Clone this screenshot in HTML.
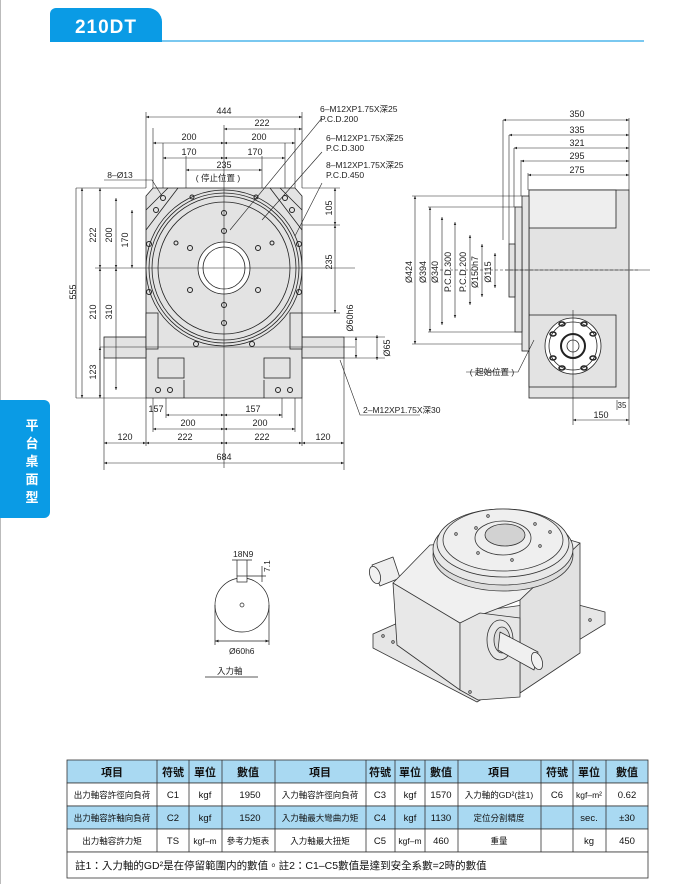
<!DOCTYPE html>
<html><head><meta charset="utf-8"><style>
body{margin:0;background:#fff;width:700px;height:884px;overflow:hidden;font-family:"Liberation Sans","Noto Sans CJK TC",sans-serif}
</style></head><body>
<svg width="700" height="884" viewBox="0 0 700 884" xmlns="http://www.w3.org/2000/svg" font-family="Liberation Sans, Noto Sans CJK TC, sans-serif">
<defs>
<marker id="a" viewBox="0 0 10 10" refX="10" refY="5" markerWidth="6" markerHeight="5" orient="auto-start-reverse"><path d="M0,1L10,5L0,9z" fill="#222"/></marker>
</defs>
<line x1="0.5" y1="0" x2="0.5" y2="884" stroke="#bbb"/>
<!-- header -->
<path d="M50,42V14a6,6 0 0 1 6,-6H148a14,14 0 0 1 14,14V42z" fill="#0a9be5"/>
<line x1="162" y1="41" x2="644" y2="41" stroke="#4fb5ec" stroke-width="1.5"/>
<text x="106" y="33" fill="#fff" font-size="19" font-weight="bold" text-anchor="middle" letter-spacing="1">210DT</text>
<!-- left tab -->
<path d="M0,400H44a6,6 0 0 1 6,6V512a6,6 0 0 1 -6,6H0z" fill="#0a9be5"/>
<g fill="#fff" font-size="13" font-weight="bold" text-anchor="middle"><text x="32" y="430">平</text><text x="32" y="448">台</text><text x="32" y="466">桌</text><text x="32" y="484">面</text><text x="32" y="502">型</text></g>

<!-- FRONT VIEW -->
<g stroke="#222" stroke-width="0.8" fill="none">
<path d="M153,188H295L302,196V398H146V196z" fill="#e3e3e3"/>
<path d="M146,210L168,188M302,210L280,188" />
<path d="M146,230L178,188M302,230L270,188"/>
<rect x="104" y="337" width="42" height="21" fill="#e3e3e3"/>
<rect x="302" y="337" width="42" height="21" fill="#e3e3e3"/>
<rect x="146" y="313" width="12" height="36" fill="#e3e3e3"/>
<rect x="290" y="313" width="12" height="36" fill="#e3e3e3"/>
<rect x="158" y="358" width="26" height="20" fill="#e3e3e3"/>
<rect x="264" y="358" width="26" height="20" fill="#e3e3e3"/>
<path d="M184,380V398M264,380V398"/>
<circle cx="224" cy="268" r="78" fill="#e3e3e3"/>
<circle cx="224" cy="268" r="75"/>
<circle cx="224" cy="268" r="72"/>
<circle cx="224" cy="268" r="66"/>
<circle cx="224" cy="268" r="26" fill="#fff"/>
<circle cx="224" cy="268" r="21"/>
</g>
<g fill="none" stroke="#222" stroke-width="1">
<circle cx="163" cy="198" r="2.5"/><circle cx="156" cy="210" r="2.5"/><circle cx="285" cy="198" r="2.5"/><circle cx="292" cy="210" r="2.5"/>
<circle cx="149" cy="244" r="2.5"/><circle cx="299" cy="244" r="2.5"/><circle cx="149" cy="292" r="2.5"/><circle cx="299" cy="292" r="2.5"/>
<circle cx="192" cy="197" r="2"/><circle cx="256" cy="197" r="2"/>
<circle cx="224" cy="213" r="2.5"/><circle cx="224" cy="231" r="2.5"/><circle cx="224" cy="305" r="2.5"/><circle cx="224" cy="323" r="2.5"/>
<circle cx="190" cy="248" r="2.5"/><circle cx="258" cy="248" r="2.5"/><circle cx="190" cy="290" r="2.5"/><circle cx="258" cy="290" r="2.5"/>
<circle cx="176" cy="243" r="2"/><circle cx="272" cy="243" r="2"/><circle cx="196" cy="344" r="2.5"/><circle cx="252" cy="344" r="2.5"/>
<circle cx="158" cy="390" r="2.5"/><circle cx="170" cy="390" r="2.5"/><circle cx="278" cy="390" r="2.5"/><circle cx="290" cy="390" r="2.5"/>
</g>
<!-- front dims -->
<g stroke="#222" stroke-width="0.6" fill="none">
<line x1="224" y1="125" x2="224" y2="468"/><line x1="95" y1="268" x2="355" y2="268"/><line x1="100" y1="347" x2="355" y2="347"/>
<line x1="146" y1="112" x2="146" y2="188"/><line x1="302" y1="112" x2="302" y2="188"/>
<line x1="153" y1="128" x2="153" y2="188"/><line x1="295" y1="128" x2="295" y2="188"/>
<line x1="163" y1="143" x2="163" y2="188"/><line x1="285" y1="143" x2="285" y2="188"/>
<line x1="186" y1="156" x2="186" y2="188"/><line x1="262" y1="156" x2="262" y2="188"/>
<line x1="146" y1="117" x2="302" y2="117" marker-start="url(#a)" marker-end="url(#a)"/>
<line x1="224" y1="129" x2="302" y2="129" marker-start="url(#a)" marker-end="url(#a)"/>
<line x1="153" y1="143" x2="224" y2="143" marker-start="url(#a)" marker-end="url(#a)"/><line x1="224" y1="143" x2="295" y2="143" marker-start="url(#a)" marker-end="url(#a)"/>
<line x1="163" y1="158" x2="224" y2="158" marker-start="url(#a)" marker-end="url(#a)"/><line x1="224" y1="158" x2="285" y2="158" marker-start="url(#a)" marker-end="url(#a)"/>
<line x1="186" y1="170" x2="262" y2="170" marker-start="url(#a)" marker-end="url(#a)"/>
<line x1="76" y1="188" x2="146" y2="188"/><line x1="76" y1="398" x2="146" y2="398"/><line x1="76" y1="188" x2="76" y2="398"/>
<line x1="82" y1="188" x2="82" y2="398" marker-start="url(#a)" marker-end="url(#a)"/>
<line x1="100" y1="188" x2="100" y2="268" marker-start="url(#a)" marker-end="url(#a)"/>
<line x1="100" y1="268" x2="100" y2="398" marker-start="url(#a)" marker-end="url(#a)"/>
<line x1="116" y1="198" x2="116" y2="268" marker-start="url(#a)" marker-end="url(#a)"/>
<line x1="116" y1="268" x2="116" y2="390" marker-start="url(#a)" marker-end="url(#a)"/>
<line x1="132" y1="210" x2="132" y2="268" marker-start="url(#a)" marker-end="url(#a)"/>
<line x1="100" y1="347" x2="100" y2="398" marker-start="url(#a)" marker-end="url(#a)"/>
<line x1="302" y1="188" x2="340" y2="188"/><line x1="302" y1="225" x2="340" y2="225"/><line x1="302" y1="313" x2="340" y2="313"/>
<line x1="335" y1="188" x2="335" y2="225" marker-start="url(#a)" marker-end="url(#a)"/>
<line x1="335" y1="225" x2="335" y2="313" marker-start="url(#a)" marker-end="url(#a)"/>
<line x1="344" y1="337" x2="385" y2="337"/><line x1="344" y1="358" x2="385" y2="358"/>
<line x1="356" y1="337" x2="356" y2="358" marker-start="url(#a)" marker-end="url(#a)"/>
<line x1="377" y1="335" x2="377" y2="360" marker-start="url(#a)" marker-end="url(#a)"/>
<line x1="344" y1="358" x2="344" y2="470"/><line x1="104" y1="358" x2="104" y2="470"/>
<line x1="146" y1="398" x2="146" y2="446"/><line x1="302" y1="398" x2="302" y2="446"/>
<line x1="153" y1="398" x2="153" y2="432"/><line x1="295" y1="398" x2="295" y2="432"/>
<line x1="166" y1="398" x2="166" y2="418"/><line x1="282" y1="398" x2="282" y2="418"/>
<line x1="166" y1="415" x2="224" y2="415" marker-start="url(#a)" marker-end="url(#a)"/><line x1="224" y1="415" x2="282" y2="415" marker-start="url(#a)" marker-end="url(#a)"/>
<line x1="153" y1="429" x2="224" y2="429" marker-start="url(#a)" marker-end="url(#a)"/><line x1="224" y1="429" x2="295" y2="429" marker-start="url(#a)" marker-end="url(#a)"/>
<line x1="146" y1="443" x2="224" y2="443" marker-start="url(#a)" marker-end="url(#a)"/><line x1="224" y1="443" x2="302" y2="443" marker-start="url(#a)" marker-end="url(#a)"/>
<line x1="104" y1="443" x2="146" y2="443" marker-start="url(#a)" marker-end="url(#a)"/><line x1="302" y1="443" x2="344" y2="443" marker-start="url(#a)" marker-end="url(#a)"/>
<line x1="104" y1="463" x2="344" y2="463" marker-start="url(#a)" marker-end="url(#a)"/>
<polyline points="104,180 152,180 162,196"/>
<polyline points="322,118 230,230"/><polyline points="322,152 262,220"/><polyline points="322,183 295,236"/>
<polyline points="340,360 360,415 420,415"/>
</g>
<g font-size="9" fill="#222" text-anchor="middle">
<text x="224" y="114">444</text><text x="262" y="126">222</text><text x="189" y="140">200</text><text x="259" y="140">200</text>
<text x="189" y="155">170</text><text x="255" y="155">170</text><text x="224" y="168">235</text>
<text x="218" y="181" font-size="8.5">( 停止位置 )</text>
<text x="120" y="178" font-size="8.5">8–Ø13</text>
<text x="156" y="412">157</text><text x="253" y="412">157</text><text x="188" y="426">200</text><text x="260" y="426">200</text>
<text x="185" y="440">222</text><text x="262" y="440">222</text><text x="125" y="440">120</text><text x="323" y="440">120</text><text x="224" y="460">684</text>
<g text-anchor="start" font-size="8.5"><text x="320" y="112">6–M12XP1.75X深25</text><text x="320" y="122">P.C.D.200</text>
<text x="326" y="141">6–M12XP1.75X深25</text><text x="326" y="151">P.C.D.300</text>
<text x="326" y="168">8–M12XP1.75X深25</text><text x="326" y="178">P.C.D.450</text>
<text x="363" y="413">2–M12XP1.75X深30</text></g>
<text transform="translate(76,292) rotate(-90)">555</text>
<text transform="translate(96,235) rotate(-90)">222</text><text transform="translate(112,235) rotate(-90)">200</text><text transform="translate(128,240) rotate(-90)">170</text>
<text transform="translate(96,312) rotate(-90)">210</text><text transform="translate(112,312) rotate(-90)">310</text><text transform="translate(96,372) rotate(-90)">123</text>
<text transform="translate(332,208) rotate(-90)">105</text><text transform="translate(332,262) rotate(-90)">235</text>
<text transform="translate(353,318) rotate(-90)">Ø60h6</text><text transform="translate(390,348) rotate(-90)">Ø65</text>
</g>

<!-- SIDE VIEW -->
<g stroke="#222" stroke-width="0.8" fill="none">
<rect x="529" y="190" width="100" height="208" fill="#e3e3e3"/>
<rect x="529" y="190" width="87" height="38" fill="#eee"/>
<rect x="529" y="315" width="87" height="72" fill="#e3e3e3"/>
<rect x="522" y="196" width="7" height="155" fill="#e3e3e3"/>
<rect x="515" y="207" width="7" height="125" fill="#e3e3e3"/>
<rect x="509" y="244" width="6" height="53" fill="#e3e3e3"/>
<line x1="440" y1="270" x2="640" y2="270" stroke-dasharray="3,2" stroke-width="0.6"/>
<line x1="505" y1="270" x2="650" y2="270" stroke-width="0.5"/>
<circle cx="573" cy="346" r="28" fill="#fff"/><circle cx="573" cy="346" r="24"/><circle cx="573" cy="346" r="12" stroke-width="2"/><circle cx="573" cy="346" r="6"/>
<g stroke-width="1.5"><ellipse cx="553" cy="334" rx="3" ry="2"/><ellipse cx="593" cy="334" rx="3" ry="2"/><ellipse cx="553" cy="358" rx="3" ry="2"/><ellipse cx="593" cy="358" rx="3" ry="2"/><ellipse cx="562" cy="324" rx="3" ry="2"/><ellipse cx="584" cy="324" rx="3" ry="2"/><ellipse cx="562" cy="368" rx="3" ry="2"/><ellipse cx="584" cy="368" rx="3" ry="2"/></g>
<line x1="573" y1="310" x2="573" y2="425" stroke-width="0.6"/>
</g>
<g stroke="#222" stroke-width="0.6" fill="none">
<line x1="503" y1="120" x2="503" y2="240"/><line x1="509" y1="135" x2="509" y2="244"/><line x1="514" y1="148" x2="514" y2="207"/>
<line x1="521" y1="160" x2="521" y2="196"/><line x1="528" y1="173" x2="528" y2="190"/><line x1="629" y1="118" x2="629" y2="190"/>
<line x1="503" y1="120" x2="629" y2="120" marker-start="url(#a)" marker-end="url(#a)"/>
<line x1="509" y1="135" x2="629" y2="135" marker-start="url(#a)" marker-end="url(#a)"/>
<line x1="514" y1="148" x2="629" y2="148" marker-start="url(#a)" marker-end="url(#a)"/>
<line x1="521" y1="161" x2="629" y2="161" marker-start="url(#a)" marker-end="url(#a)"/>
<line x1="528" y1="175" x2="629" y2="175" marker-start="url(#a)" marker-end="url(#a)"/>
<line x1="412" y1="196" x2="522" y2="196"/><line x1="412" y1="344" x2="522" y2="344"/>
<line x1="415" y1="196" x2="415" y2="344" marker-start="url(#a)" marker-end="url(#a)"/>
<line x1="428" y1="207" x2="515" y2="207"/><line x1="428" y1="332" x2="515" y2="332"/>
<line x1="430" y1="207" x2="430" y2="332" marker-start="url(#a)" marker-end="url(#a)"/>
<line x1="442" y1="217" x2="442" y2="325" marker-start="url(#a)" marker-end="url(#a)"/>
<line x1="455" y1="222" x2="455" y2="318" marker-start="url(#a)" marker-end="url(#a)"/>
<line x1="470" y1="235" x2="470" y2="305" marker-start="url(#a)" marker-end="url(#a)"/>
<line x1="482" y1="244" x2="482" y2="297" marker-start="url(#a)" marker-end="url(#a)"/>
<line x1="495" y1="253" x2="495" y2="288" marker-start="url(#a)" marker-end="url(#a)"/>
<line x1="573" y1="420" x2="629" y2="420" marker-start="url(#a)" marker-end="url(#a)"/>
<line x1="629" y1="398" x2="629" y2="425"/><line x1="617" y1="400" x2="617" y2="410"/>
<polyline points="466,372 518,372 534,340"/>
</g>
<g font-size="9" fill="#222" text-anchor="middle">
<text x="577" y="117">350</text><text x="577" y="133">335</text><text x="577" y="146">321</text><text x="577" y="159">295</text><text x="577" y="173">275</text>
<text x="601" y="418">150</text><text x="622" y="408" font-size="8">35</text>
<text x="492" y="375" font-size="8.5">( 起始位置 )</text>
<text transform="translate(412,272) rotate(-90)">Ø424</text><text transform="translate(426,272) rotate(-90)">Ø394</text>
<text transform="translate(438,272) rotate(-90)">Ø340</text><text transform="translate(451,272) rotate(-90)">P.C.D.300</text>
<text transform="translate(466,272) rotate(-90)">P.C.D.200</text><text transform="translate(478,272) rotate(-90)">Ø150h7</text>
<text transform="translate(491,272) rotate(-90)">Ø115</text>
</g>

<!-- SHAFT SECTION -->
<g stroke="#222" stroke-width="0.7" fill="none">
<circle cx="242" cy="605" r="27" fill="#fff"/><rect x="237" y="576" width="10" height="6" fill="#fff"/>
<circle cx="242" cy="605" r="2"/>
<line x1="237" y1="560" x2="237" y2="576"/><line x1="247" y1="560" x2="247" y2="576"/>
<line x1="232" y1="560" x2="252" y2="560"/>
<line x1="247" y1="576" x2="266" y2="576"/><line x1="262" y1="566" x2="262" y2="582"/>
<line x1="215" y1="605" x2="215" y2="645"/><line x1="269" y1="605" x2="269" y2="645"/>
<line x1="215" y1="641" x2="269" y2="641" marker-start="url(#a)" marker-end="url(#a)"/>
<line x1="205" y1="677" x2="258" y2="677"/>
</g>
<g font-size="8.5" fill="#222"><text x="233" y="557">18N9</text><text transform="translate(270,572) rotate(-90)">7.1</text>
<text x="229" y="654">Ø60h6</text><text x="217" y="674">入力軸</text></g>

<!-- ISO VIEW -->
<g stroke="#333" stroke-width="0.8" stroke-linejoin="round">
<!-- base plate -->
<polygon points="373,634 400,622 560,600 605,612 605,624 477,702 373,648" fill="#e6e6e6"/>
<!-- left shaft -->
<polygon points="372,565 393,557 400,578 380,586" fill="#eee"/>
<ellipse cx="375" cy="575" rx="5" ry="9" transform="rotate(-20 375 575)" fill="#f2f2f2"/>
<!-- left/front face -->
<polygon points="393,583 397,583 460,623 460,690 397,645" fill="#e8e8e8"/>
<!-- top face -->
<polygon points="393,583 430,545 560,537 580,543 520,600 460,623" fill="#f0f0f0"/>
<!-- right face -->
<polygon points="520,600 580,543 580,653 520,693" fill="#e2e2e2"/>
<!-- front housing -->
<polygon points="460,623 480,613 520,618 520,697 478,700 460,690" fill="#e6e6e6"/>
<!-- disc -->
<ellipse cx="503" cy="555" rx="70" ry="36" fill="#dcdcdc"/>
<ellipse cx="503" cy="549" rx="70" ry="36" fill="#e8e8e8"/>
<ellipse cx="503" cy="543" rx="66" ry="34" fill="#ececec"/>
<ellipse cx="503" cy="540" rx="60" ry="31" fill="#efefef"/>
<ellipse cx="503" cy="538" rx="28" ry="17" fill="#eee"/>
<ellipse cx="505" cy="535" rx="20" ry="11" fill="#d2d2d2"/>
<!-- input flange & shaft -->
<ellipse cx="500" cy="640" rx="13" ry="20" fill="#e8e8e8"/>
<ellipse cx="502" cy="640" rx="8" ry="13" fill="#ddd"/>
<polygon points="500,632 538,652 534,670 498,650" fill="#f0f0f0"/>
<ellipse cx="537" cy="661" rx="5" ry="9" transform="rotate(-20 537 661)" fill="#f2f2f2"/>
</g>
<g fill="none" stroke="#333" stroke-width="0.8">
<circle cx="488" cy="516" r="1.3"/><circle cx="535" cy="524" r="1.3"/><circle cx="476" cy="528" r="1.3"/><circle cx="540" cy="546" r="1.3"/><circle cx="478" cy="553" r="1.3"/><circle cx="512" cy="560" r="1.3"/><circle cx="456" cy="534" r="1.3"/><circle cx="550" cy="532" r="1.3"/>
<circle cx="383" cy="636" r="1.3"/><circle cx="393" cy="642" r="1.3"/><circle cx="590" cy="620" r="1.3"/><circle cx="470" cy="692" r="1.3"/>
</g>

<!-- TABLE -->
<g stroke="#333" stroke-width="0.8">
<rect x="67" y="760" width="581" height="23" fill="#a9d9f2"/>
<rect x="67" y="783" width="581" height="23" fill="#fff"/>
<rect x="67" y="806" width="581" height="23" fill="#a9d9f2"/>
<rect x="67" y="829" width="581" height="23" fill="#fff"/>
<rect x="67" y="852" width="581" height="26" fill="#fff"/>
<g fill="none"><path d="M157,760V852M189,760V852M222,760V852M275,760V852M366,760V852M395,760V852M425,760V852M458,760V852M541,760V852M573,760V852M606,760V852"/></g>
</g>
<g font-size="9.5" fill="#111" text-anchor="middle">
<g font-size="11" font-weight="bold"><text x="112" y="776">項目</text><text x="173" y="776">符號</text><text x="205" y="776">單位</text><text x="248" y="776">數值</text><text x="320" y="776">項目</text><text x="380" y="776">符號</text><text x="410" y="776">單位</text><text x="441" y="776">數值</text><text x="499" y="776">項目</text><text x="557" y="776">符號</text><text x="589" y="776">單位</text><text x="627" y="776">數值</text></g>
<text x="112" y="798" font-size="8.5">出力軸容許徑向負荷</text><text x="173" y="798">C1</text><text x="205" y="798">kgf</text><text x="250" y="798">1950</text>
<text x="320" y="798" font-size="8.5">入力軸容許徑向負荷</text><text x="380" y="798">C3</text><text x="410" y="798">kgf</text><text x="441" y="798">1570</text>
<text x="499" y="798" font-size="8.5">入力軸的GD²(註1)</text><text x="557" y="798">C6</text><text x="589" y="798" font-size="8.5">kgf–m²</text><text x="627" y="798">0.62</text>
<text x="112" y="821" font-size="8.5">出力軸容許軸向負荷</text><text x="173" y="821">C2</text><text x="205" y="821">kgf</text><text x="250" y="821">1520</text>
<text x="320" y="821" font-size="8.5">入力軸最大彎曲力矩</text><text x="380" y="821">C4</text><text x="410" y="821">kgf</text><text x="441" y="821">1130</text>
<text x="499" y="821" font-size="8.5">定位分割精度</text><text x="589" y="821">sec.</text><text x="627" y="821">±30</text>
<text x="112" y="844" font-size="8.5">出力軸容許力矩</text><text x="173" y="844">TS</text><text x="205" y="844" font-size="8.5">kgf–m</text><text x="248" y="844" font-size="8.5">參考力矩表</text>
<text x="320" y="844" font-size="8.5">入力軸最大扭矩</text><text x="380" y="844">C5</text><text x="410" y="844" font-size="8.5">kgf–m</text><text x="441" y="844">460</text>
<text x="499" y="844" font-size="8.5">重量</text><text x="589" y="844">kg</text><text x="627" y="844">450</text>
<text x="75" y="869" text-anchor="start" font-size="10.5">註1：入力軸的GD²是在停留範圍内的數值。註2：C1–C5數值是達到安全系數=2時的數值</text>
</g>
</svg>
</body></html>
